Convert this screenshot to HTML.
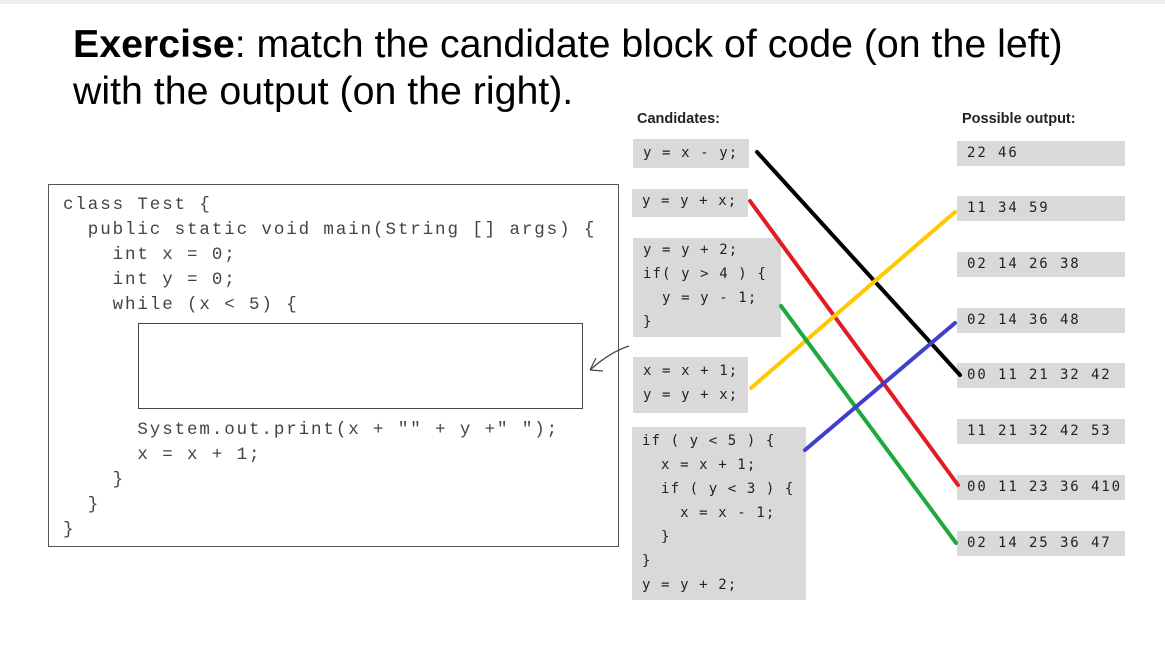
<!DOCTYPE html>
<html><head><style>
body{margin:0;width:1165px;height:651px;background:#fff;position:relative;overflow:hidden;font-family:"Liberation Sans",sans-serif}
.t{position:absolute;left:73px;font-size:39.3px;color:#000;line-height:47px}
.code{position:absolute;left:48px;top:184px;width:569px;height:361px;border:1.5px solid #555}
.c{position:absolute;font-family:"Liberation Mono",monospace;font-size:17.5px;letter-spacing:1.9px;color:#444;white-space:pre;line-height:25px}
.inner{position:absolute;left:138px;top:323px;width:443px;height:84px;border:1.5px solid #444}
.g{position:absolute;background:#d9d9d9;font-family:"DejaVu Sans Mono",monospace;font-size:14px;letter-spacing:1.1px;color:#222;white-space:pre;line-height:24px;padding-left:10px;box-sizing:border-box}
.o{letter-spacing:1.9px}
.h{position:absolute;font-weight:bold;font-size:14.5px;color:#222}
</style></head><body>
<div style="position:absolute;left:0;top:0;width:1165px;height:4px;background:#eee"></div>
<div class="t" style="top:21px"><b>Exercise</b>: match the candidate block of code (on the left)</div>
<div class="t" style="top:68px">with the output (on the right).</div>
<div class="code"></div>
<div class="c" style="left:63px;top:193px">class Test {
  public static void main(String [] args) {
    int x = 0;
    int y = 0;
    while (x &lt; 5) {</div>
<div class="inner"></div>
<div class="c" style="left:63px;top:418px">      System.out.print(x + "" + y +" ");
      x = x + 1;
    }
  }
}</div>
<div class="h" style="left:637px;top:111px">Candidates:</div>
<div class="h" style="left:962px;top:111px">Possible output:</div>
<div class="g" style="left:633px;top:139px;width:116px;height:29px;padding-top:2px">y = x - y;</div>
<div class="g" style="left:632px;top:189px;width:116px;height:28px;padding-top:0">y = y + x;</div>
<div class="g" style="left:633px;top:238px;width:148px;height:99px;padding-top:0">y = y + 2;
if( y > 4 ) {
  y = y - 1;
}</div>
<div class="g" style="left:633px;top:357px;width:115px;height:56px;padding-top:2px">x = x + 1;
y = y + x;</div>
<div class="g" style="left:632px;top:427px;width:174px;height:173px;padding-top:2px">if ( y &lt; 5 ) {
  x = x + 1;
  if ( y &lt; 3 ) {
    x = x - 1;
  }
}
y = y + 2;</div>
<div class="g o" style="left:957px;top:141px;width:168px;height:25px">22 46</div>
<div class="g o" style="left:957px;top:196px;width:168px;height:25px">11 34 59</div>
<div class="g o" style="left:957px;top:252px;width:168px;height:25px">02 14 26 38</div>
<div class="g o" style="left:957px;top:308px;width:168px;height:25px">02 14 36 48</div>
<div class="g o" style="left:957px;top:363px;width:168px;height:25px">00 11 21 32 42</div>
<div class="g o" style="left:957px;top:419px;width:168px;height:25px">11 21 32 42 53</div>
<div class="g o" style="left:957px;top:475px;width:168px;height:25px">00 11 23 36 410</div>
<div class="g o" style="left:957px;top:531px;width:168px;height:25px">02 14 25 36 47</div>
<svg width="1165" height="651" style="position:absolute;left:0;top:0">
<g stroke-width="4" stroke-linecap="round" fill="none">
<line x1="757" y1="152" x2="960" y2="375" stroke="#000"/>
<line x1="750" y1="201" x2="958" y2="485" stroke="#e31b23"/>
<line x1="751" y1="388" x2="955" y2="212" stroke="#ffc800"/>
<line x1="781" y1="306" x2="956" y2="543" stroke="#1fa83c"/>
<line x1="805" y1="450" x2="955" y2="323" stroke="#4040cc"/>
</g>
<path d="M629 346 Q610 352 590 370 M590 370 L596 358 M590 370 L603 371" stroke="#444" stroke-width="1.2" fill="none"/>
</svg>
</body></html>
